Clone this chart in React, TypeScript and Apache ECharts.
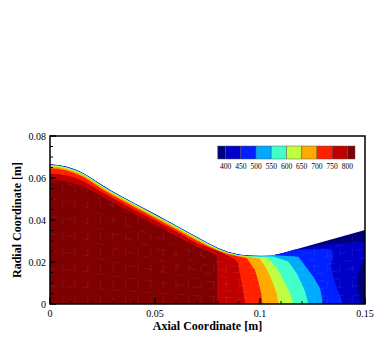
import React, { useEffect, useRef } from "react";
import * as echarts from "echarts";

const FONT = "'Liberation Serif', 'Times New Roman', serif";

const legendLevels = [400, 450, 500, 550, 600, 650, 700, 750, 800];
const legendEdges = [374, 400, 450, 500, 550, 600, 650, 700, 750, 800, 825];
const bandColors = ["#00007f", "#0000c8", "#0020ff", "#00aaff", "#40ffc8", "#c0ff40", "#ffaa00", "#ff2000", "#c00000", "#7f0000"];

const xTickLabels: Record<number, string> = { 0: "0", 0.05: "0.05", 0.1: "0.1", 0.15: "0.15" };
const yTickLabels: Record<number, string> = { 0: "0", 0.02: "0.02", 0.04: "0.04", 0.06: "0.06", 0.08: "0.08" };
const xMajor = [0, 0.05, 0.1, 0.15];
const xMinor = [0.01, 0.02, 0.03, 0.04, 0.06, 0.07, 0.08, 0.09, 0.11, 0.12, 0.13, 0.14];
const yMajor = [0, 0.02, 0.04, 0.06, 0.08];
const yMinor = [0.005, 0.01, 0.015, 0.025, 0.03, 0.035, 0.045, 0.05, 0.055, 0.065, 0.07, 0.075];

// Axial stations along the nozzle wall, and the radius of each contour there.
const stations = [0, 0.004, 0.008, 0.012, 0.016, 0.02, 0.025, 0.03, 0.04, 0.05, 0.06, 0.07, 0.075, 0.08, 0.085, 0.09, 0.095, 0.1];
const wallR = [0.0665, 0.0662, 0.0654, 0.0641, 0.0623, 0.0598, 0.0565, 0.0535, 0.0481, 0.0428, 0.0374, 0.0319, 0.0292, 0.0267, 0.0248, 0.0236, 0.0231, 0.023];
const r400 = [0.0664, 0.0661, 0.0653, 0.064, 0.0622, 0.0597, 0.0564, 0.0534, 0.048, 0.0427, 0.0373, 0.0318, 0.0291, 0.0266, 0.0247, 0.0235, 0.023, 0.0229];
const r450 = [0.0663, 0.066, 0.0652, 0.0639, 0.0621, 0.0596, 0.0563, 0.0533, 0.0479, 0.0426, 0.0372, 0.0317, 0.029, 0.0265, 0.0246, 0.0234, 0.0229, 0.0228];
const r500 = [0.0662, 0.0659, 0.0651, 0.0638, 0.062, 0.0595, 0.0562, 0.0532, 0.0478, 0.0425, 0.0371, 0.0316, 0.0289, 0.0264, 0.0245, 0.0233, 0.0228, 0.0227];
const r550 = [0.0661, 0.0658, 0.065, 0.0637, 0.0619, 0.0594, 0.0561, 0.0531, 0.0477, 0.0424, 0.037, 0.0315, 0.0288, 0.0263, 0.0244, 0.0232, 0.0227, 0.0226];
const r600 = [0.066, 0.0657, 0.0649, 0.0636, 0.0618, 0.0593, 0.056, 0.053, 0.0476, 0.0423, 0.0369, 0.0314, 0.0287, 0.0262, 0.0243, 0.0231, 0.0226, 0.0224];
const r650 = [0.0655, 0.0652, 0.0644, 0.0631, 0.0613, 0.0588, 0.0555, 0.0525, 0.0471, 0.0418, 0.0364, 0.0309, 0.0282, 0.0259, 0.0241, 0.0229, 0.0224, 0.0216];
const r700 = [0.0647, 0.0644, 0.0636, 0.0623, 0.0605, 0.058, 0.0547, 0.0517, 0.0463, 0.041, 0.0356, 0.0301, 0.0276, 0.0254, 0.0237, 0.0226];
const r750 = [0.062, 0.0618, 0.0612, 0.0601, 0.0585, 0.0562, 0.0532, 0.0503, 0.045, 0.0398, 0.0345, 0.0288, 0.0271, 0.0252, 0.0229];
const r800 = [0.059, 0.0588, 0.0582, 0.0572, 0.0558, 0.0538, 0.051, 0.0483, 0.043, 0.0378, 0.0325, 0.0272, 0.025];

// Where each contour leaves the wall and runs down to the axis.
const tailWall = [[0.105, 0.023], [0.11, 0.0241], [0.13, 0.0297], [0.15, 0.0352], [0.15, 0]];
const tail400 = [[0.105, 0.0229], [0.11, 0.024], [0.125, 0.0275], [0.14, 0.029], [0.15, 0.0295], [0.15, 0.021], [0.148, 0.0186], [0.146, 0.012], [0.1465, 0.005], [0.148, 0]];
const tail450 = [[0.105, 0.0228], [0.11, 0.0239], [0.1166, 0.026], [0.1341, 0.0261], [0.135, 0.0225], [0.1336, 0.0186], [0.1357, 0.0099], [0.1397, 0]];
const tail500 = [[0.1062, 0.0233], [0.1183, 0.0225], [0.1205, 0.0195], [0.1254, 0.013], [0.1286, 0.0075], [0.1301, 0]];
const tail550 = [[0.1062, 0.0226], [0.1135, 0.0202], [0.1175, 0.0146], [0.119, 0.0114], [0.1215, 0.006], [0.123, 0]];
const tail600 = [[0.1035, 0.0222], [0.1087, 0.0162], [0.1111, 0.0114], [0.1142, 0.0055], [0.1159, 0]];
const tail650 = [[0.103, 0.017], [0.1056, 0.0114], [0.1078, 0.0055], [0.109, 0]];
const tail700 = [[0.0937, 0.0218], [0.0976, 0.0162], [0.099, 0.0114], [0.1005, 0.0055], [0.1013, 0]];
const tail750 = [[0.088, 0.0213], [0.0896, 0.0195], [0.093, 0]];
const tail800 = [[0.0794, 0.0233], [0.0797, 0]];

// Faint computational mesh seen through the contours.
const meshAxial = [0.006, 0.012, 0.018, 0.024, 0.03, 0.036, 0.042, 0.048, 0.054, 0.06, 0.066, 0.072, 0.078, 0.084, 0.09, 0.096, 0.102, 0.108, 0.114, 0.12, 0.126, 0.132, 0.138, 0.144];
const meshRadial = [0.125, 0.25, 0.375, 0.5, 0.625, 0.75, 0.875];

const outline = (r: number[], tail: number[][]) => [...r.map((v, i) => [stations[i], v]), ...tail, [0, 0]];
const regions = [
  outline(wallR, tailWall), outline(r400, tail400), outline(r450, tail450), outline(r500, tail500), outline(r550, tail550),
  outline(r600, tail600), outline(r650, tail650), outline(r700, tail700), outline(r750, tail750), outline(r800, tail800),
];
const wallLine = regions[0].slice(0, stations.length + 4);
const wallAt = (x: number) => {
  for (let i = 1; i < wallLine.length; i++) {
    const [x0, r0] = wallLine[i - 1];
    const [x1, r1] = wallLine[i];
    if (x <= x1) return r0 + ((r1 - r0) * (x - x0)) / (x1 - x0);
  }
  return wallLine[wallLine.length - 1][1];
};
const meshLines: number[][][] = [
  ...meshAxial.map((x) => [[x, 0], [x, wallAt(x) - 0.0015]]),
  ...meshRadial.map((f) => [...stations, 0.11, 0.13, 0.15].map((x) => [x, f * wallAt(x)])),
];

// [value, isY (0/1), isMajor (0/1)]
const ticks = [
  ...xMajor.map((v) => [v, 0, 1]), ...xMinor.map((v) => [v, 0, 0]),
  ...yMajor.map((v) => [v, 1, 1]), ...yMinor.map((v) => [v, 1, 0]),
];

export default function App() {
  const ref = useRef<HTMLDivElement>(null);
  useEffect(() => {
    document.body.style.margin = "0";
    const chart = echarts.init(ref.current!, undefined, { renderer: "svg" });
    const legendBands = bandColors.map((c, i) => [legendEdges[i], legendEdges[i + 1], i]);
    chart.setOption({
      animation: false,
      backgroundColor: "#fff",
      grid: [
        { left: 50, top: 136, width: 315, height: 168, show: false, outerBoundsMode: "none" },
        { left: 217.7, top: 146, width: 137.3, height: 13, show: false, outerBoundsMode: "none" },
      ],
      xAxis: [
        {
          gridIndex: 0, type: "value", min: 0, max: 0.15, interval: 0.05,
          name: "Axial Coordinate [m]", nameLocation: "middle", nameGap: 16, nameMoveOverlap: false,
          nameTextStyle: { fontFamily: FONT, fontWeight: "bold", fontSize: 12, color: "#000" },
          axisLine: { show: false, onZero: false },
          axisTick: { show: false },
          axisLabel: { fontFamily: FONT, fontSize: 10, color: "#000", margin: 4, formatter: (v: number) => xTickLabels[Math.round(v * 100) / 100] ?? "", hideOverlap: false },
          splitLine: { show: false },
        },
        {
          gridIndex: 1, type: "value", min: 374, max: 825, position: "bottom",
          axisLine: { show: false }, axisTick: { show: false }, splitLine: { show: false },
          axisLabel: { show: true, customValues: legendLevels, fontFamily: FONT, fontSize: 7.5, color: "#000", margin: 3 },
        },
      ],
      yAxis: [
        {
          gridIndex: 0, type: "value", min: 0, max: 0.08, interval: 0.02,
          name: "Radial Coordinate [m]", nameLocation: "middle", nameGap: 27, nameMoveOverlap: false,
          nameTextStyle: { fontFamily: FONT, fontWeight: "bold", fontSize: 12, color: "#000" },
          axisLine: { show: false, onZero: false },
          axisTick: { show: false },
          axisLabel: { fontFamily: FONT, fontSize: 10, color: "#000", margin: 4, formatter: (v: number) => yTickLabels[Math.round(v * 100) / 100] ?? "" },
          splitLine: { show: false },
        },
        { gridIndex: 1, type: "value", min: 0, max: 1, show: false },
      ],
      series: [
        {
          type: "custom", xAxisIndex: 0, yAxisIndex: 0, coordinateSystem: "cartesian2d", clip: true, silent: true, z: 1,
          data: regions.map((_, i) => [i]),
          renderItem: (params: any, api: any) => {
            const i = params.dataIndex;
            return {
              type: "polygon",
              shape: { points: regions[i].map((p) => api.coord(p)) },
              style: { fill: bandColors[i], stroke: null },
            };
          },
        },
        {
          type: "custom", xAxisIndex: 0, yAxisIndex: 0, coordinateSystem: "cartesian2d", clip: true, silent: true, z: 2,
          data: meshLines.map((_, i) => [i]),
          renderItem: (params: any, api: any) => ({
            type: "polyline",
            shape: { points: meshLines[params.dataIndex].map((p) => api.coord(p)) },
            style: { fill: "none", stroke: "rgba(255,255,255,0.13)", lineWidth: 0.6, lineDash: [7, 9] },
          }),
        },
        {
          type: "custom", xAxisIndex: 1, yAxisIndex: 1, coordinateSystem: "cartesian2d", silent: true, z: 1,
          data: legendBands,
          renderItem: (_p: any, api: any) => {
            const a = api.coord([api.value(0), 1]);
            const b = api.coord([api.value(1), 0]);
            return {
              type: "rect",
              shape: { x: a[0], y: a[1], width: b[0] - a[0], height: b[1] - a[1] },
              style: { fill: bandColors[api.value(2) as number], stroke: "#555", lineWidth: 0.5 },
            };
          },
        },
        // inward ticks
        {
          type: "custom", xAxisIndex: 0, yAxisIndex: 0, coordinateSystem: "cartesian2d", clip: false, silent: true, z: 5,
          data: ticks,
          renderItem: (_p: any, api: any) => {
            const v = api.value(0) as number;
            const isY = api.value(1) === 1;
            const major = api.value(2) === 1;
            const len = major ? 6 : 3;
            const p = isY ? api.coord([0, v]) : api.coord([v, 0]);
            return {
              type: "line",
              shape: { x1: p[0], y1: p[1], x2: isY ? p[0] + len : p[0], y2: isY ? p[1] : p[1] - len },
              style: { stroke: "#000", lineWidth: major ? 1.5 : 1 },
            };
          },
        },
        {
          type: "custom", xAxisIndex: 0, yAxisIndex: 0, coordinateSystem: "cartesian2d", clip: false, silent: true, z: 6,
          data: [[0]],
          renderItem: (_p: any, api: any) => {
            const a = api.coord([0, 0.08]);
            const b = api.coord([0.15, 0]);
            return {
              type: "rect",
              shape: { x: a[0], y: a[1], width: b[0] - a[0], height: b[1] - a[1] },
              style: { fill: "none", stroke: "#000", lineWidth: 1.5 },
            };
          },
        },
      ],
    });
    return () => chart.dispose();
  }, []);
  return <div ref={ref} style={{ position: "absolute", left: 0, top: 0, width: 381, height: 339 }} />;
}
